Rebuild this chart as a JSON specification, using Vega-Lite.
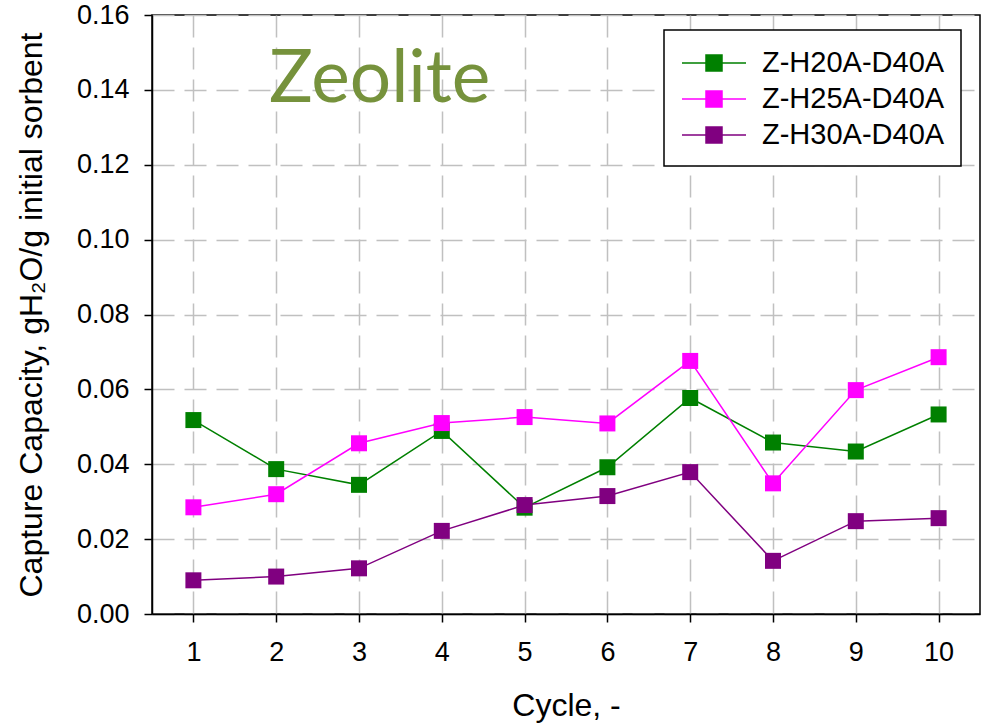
{
  "$schema": "https://vega.github.io/schema/vega-lite/v6.json",
  "width": 828,
  "height": 599,
  "autosize": "none",
  "padding": {"left": 152, "top": 15, "right": 9, "bottom": 111},
  "background": "white",
  "config": {
    "font": "Liberation Sans",
    "view": {"stroke": "black", "strokeWidth": 1.5},
    "axis": {
      "labelFont": "Liberation Sans",
      "labelFontSize": 27,
      "labelColor": "black",
      "titleFont": "Liberation Sans",
      "titleFontSize": 32,
      "titleFontWeight": "normal",
      "titleColor": "black",
      "domainColor": "black",
      "domainWidth": 1.5,
      "tickColor": "black",
      "tickWidth": 1.5,
      "tickSize": 8,
      "gridColor": "#c0c0c0",
      "gridWidth": 1.5,
      "gridDash": [22, 10]
    }
  },
  "datasets": {
    "series": [
      {"cycle": 1, "value": 0.0518, "sample": "Z-H20A-D40A"},
      {"cycle": 2, "value": 0.0387, "sample": "Z-H20A-D40A"},
      {"cycle": 3, "value": 0.0345, "sample": "Z-H20A-D40A"},
      {"cycle": 4, "value": 0.0489, "sample": "Z-H20A-D40A"},
      {"cycle": 5, "value": 0.0284, "sample": "Z-H20A-D40A"},
      {"cycle": 6, "value": 0.0392, "sample": "Z-H20A-D40A"},
      {"cycle": 7, "value": 0.0577, "sample": "Z-H20A-D40A"},
      {"cycle": 8, "value": 0.0458, "sample": "Z-H20A-D40A"},
      {"cycle": 9, "value": 0.0434, "sample": "Z-H20A-D40A"},
      {"cycle": 10, "value": 0.0533, "sample": "Z-H20A-D40A"},
      {"cycle": 1, "value": 0.0285, "sample": "Z-H25A-D40A"},
      {"cycle": 2, "value": 0.0320, "sample": "Z-H25A-D40A"},
      {"cycle": 3, "value": 0.0456, "sample": "Z-H25A-D40A"},
      {"cycle": 4, "value": 0.0510, "sample": "Z-H25A-D40A"},
      {"cycle": 5, "value": 0.0526, "sample": "Z-H25A-D40A"},
      {"cycle": 6, "value": 0.0509, "sample": "Z-H25A-D40A"},
      {"cycle": 7, "value": 0.0676, "sample": "Z-H25A-D40A"},
      {"cycle": 8, "value": 0.0349, "sample": "Z-H25A-D40A"},
      {"cycle": 9, "value": 0.0598, "sample": "Z-H25A-D40A"},
      {"cycle": 10, "value": 0.0686, "sample": "Z-H25A-D40A"},
      {"cycle": 1, "value": 0.0090, "sample": "Z-H30A-D40A"},
      {"cycle": 2, "value": 0.0100, "sample": "Z-H30A-D40A"},
      {"cycle": 3, "value": 0.0122, "sample": "Z-H30A-D40A"},
      {"cycle": 4, "value": 0.0222, "sample": "Z-H30A-D40A"},
      {"cycle": 5, "value": 0.0291, "sample": "Z-H30A-D40A"},
      {"cycle": 6, "value": 0.0315, "sample": "Z-H30A-D40A"},
      {"cycle": 7, "value": 0.0379, "sample": "Z-H30A-D40A"},
      {"cycle": 8, "value": 0.0142, "sample": "Z-H30A-D40A"},
      {"cycle": 9, "value": 0.0248, "sample": "Z-H30A-D40A"},
      {"cycle": 10, "value": 0.0256, "sample": "Z-H30A-D40A"}
    ],
    "label": [{"cycle": 3.25, "value": 0.1426, "text": "Zeolite"}]
  },
  "layer": [
    {
      "data": {"name": "series"},
      "mark": {"type": "line", "strokeWidth": 1.5},
      "encoding": {
        "x": {
          "field": "cycle", "type": "quantitative",
          "scale": {"domain": [0.5, 10.5], "nice": false, "zero": false},
          "axis": {"values": [1,2,3,4,5,6,7,8,9,10], "title": "Cycle, -", "labelPadding": 17, "titlePadding": 25, "format": "d"}
        },
        "y": {
          "field": "value", "type": "quantitative",
          "scale": {"domain": [0, 0.16], "nice": false},
          "axis": {"values": [0,0.02,0.04,0.06,0.08,0.10,0.12,0.14,0.16], "format": ".2f", "title": "Capture Capacity, gH\u2082O/g initial sorbent", "labelPadding": 15, "titlePadding": 28}
        },
        "color": {
          "field": "sample", "type": "nominal",
          "scale": {"domain": ["Z-H20A-D40A", "Z-H25A-D40A", "Z-H30A-D40A"], "range": ["#008000", "#ff00ff", "#800080"]},
          "legend": {
            "title": null,
            "orient": "none",
            "legendX": 512,
            "legendY": 15,
            "fillColor": "white",
            "strokeColor": "black",
            "padding": 16,
            "symbolType": "M-2,0H-0.5M0.5,0H2M-0.5,-0.5H0.5V0.5H-0.5Z",
            "symbolSize": 1024,
            "symbolStrokeWidth": 1.5,
            "symbolOffset": 17,
            "labelFont": "Liberation Sans",
            "labelFontSize": 29,
            "labelColor": "black",
            "labelOffset": 31,
            "labelLimit": 400,
            "rowPadding": 4,
            "encode": {
              "legend": {"update": {"strokeWidth": {"value": 1.5}}},
              "symbols": {"update": {"fill": {"scale": "color", "field": "value"}, "stroke": {"scale": "color", "field": "value"}}}
            }
          }
        }
      }
    },
    {
      "data": {"name": "series"},
      "mark": {"type": "point", "shape": "square", "filled": true, "size": 256, "opacity": 1},
      "encoding": {
        "x": {"field": "cycle", "type": "quantitative"},
        "y": {"field": "value", "type": "quantitative"},
        "color": {"field": "sample", "type": "nominal", "legend": null}
      }
    },
    {
      "data": {"name": "label"},
      "mark": {"type": "text", "font": "Lato", "fontSize": 73, "color": "#76923c", "align": "center", "baseline": "middle"},
      "encoding": {
        "x": {"field": "cycle", "type": "quantitative"},
        "y": {"field": "value", "type": "quantitative"},
        "text": {"field": "text"}
      }
    }
  ]
}
